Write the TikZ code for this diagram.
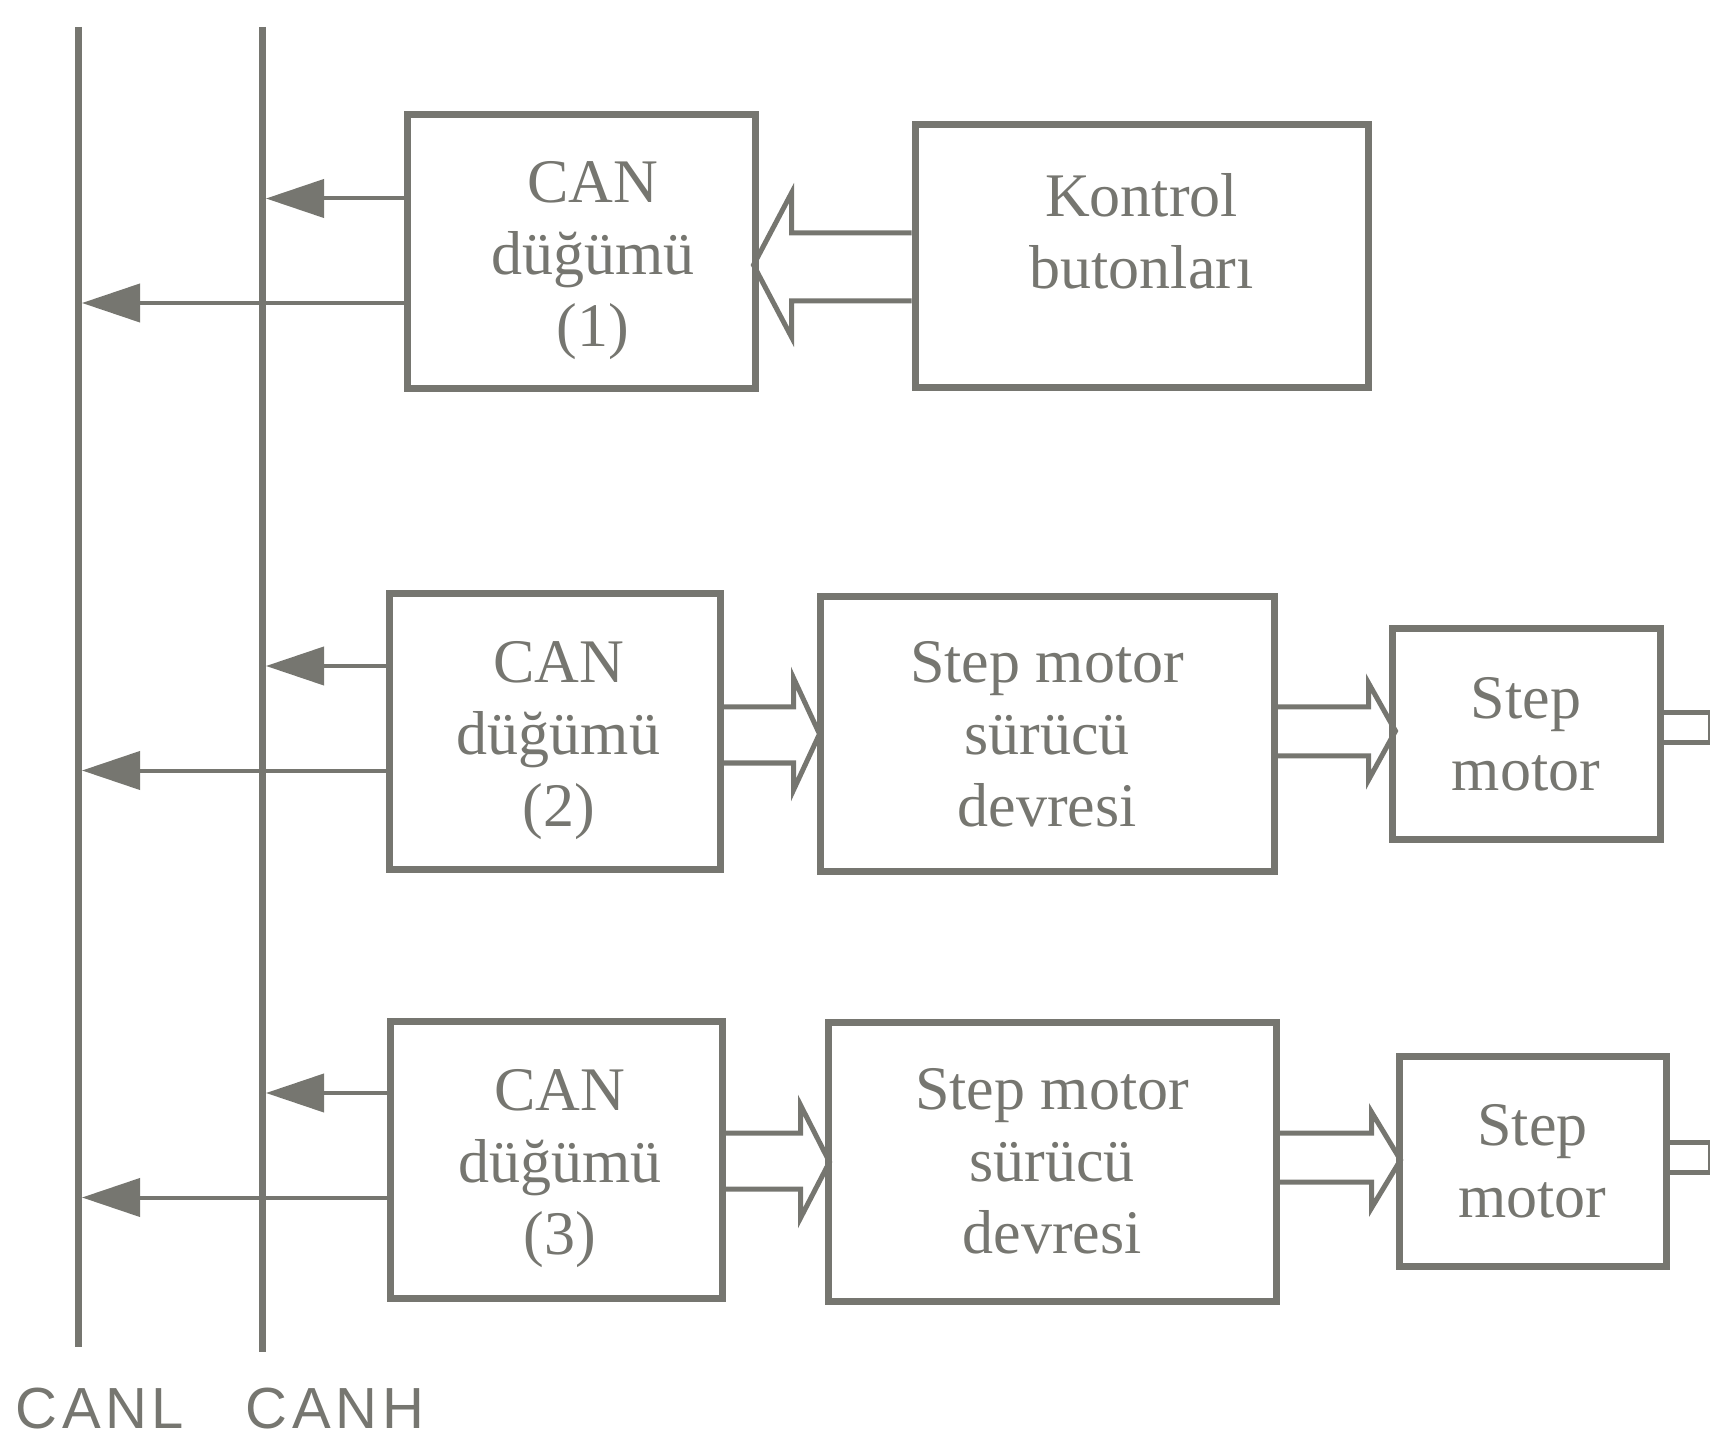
\documentclass[tikz,border=0pt]{standalone}
\usepackage{fontspec}
\setmainfont{Liberation Serif}
\newfontfamily\etiketfont[LetterSpace=8]{Liberation Sans}
\usetikzlibrary{arrows.meta}
\definecolor{gri}{RGB}{118,118,112}

\begin{document}
\begin{tikzpicture}[
    x=0.5pt, y=-0.5pt,
    yazi/.style={align=center, text=gri, font=\fontsize{31}{36}\selectfont},
    kutu/.style={yazi, draw=gri, line width=3.5pt, fill=white, inner sep=0pt},
    hat/.style={draw=gri, line width=3.5pt},
    ok/.style={draw=gri, line width=2pt, -{Triangle[length=29pt,width=19pt]}, shorten >=2pt},
    bosok/.style={draw=gri, line width=2.5pt, line join=miter},
    etiket/.style={text=gri, font=\etiketfont\fontsize{29}{34}\selectfont, anchor=base}
]
\useasboundingbox (0,0) rectangle (1710,1444);

% CAN bus
\coordinate (canlT) at (78,27);
\coordinate (canlB) at (78,1347);
\coordinate (canhT) at (262,27);
\coordinate (canhB) at (262,1352);
\draw[hat] (canlT) -- (canlB);
\draw[hat] (canhT) -- (canhB);
\node[etiket] (canl) at (100,1428) {CANL};
\node[etiket] (canh) at (335,1428) {CANH};

% blocks
\node[kutu, minimum width=174pt, minimum height=137pt,
      label={[yazi, xshift=6pt, yshift=-4.5pt]center:CAN\\düğümü\\(1)}] (can1) at (581,252) {};
\node[kutu, minimum width=226.5pt, minimum height=131.5pt,
      label={[yazi, yshift=12.5pt]center:Kontrol\\butonları}] (kontrol) at (1141.5,256.5) {};

\node[kutu, minimum width=165.5pt, minimum height=137.5pt,
      label={[yazi, xshift=2pt, yshift=-4.5pt]center:CAN\\düğümü\\(2)}] (can2) at (554.5,731.5) {};
\node[kutu, minimum width=227pt, minimum height=137pt] (surucu2) at (1047,734) {Step motor\\sürücü\\devresi};
\node[kutu, minimum width=134pt, minimum height=105pt] (motor2) at (1526,734) {Step\\motor};

\node[kutu, minimum width=166pt, minimum height=138.5pt,
      label={[yazi, xshift=2pt, yshift=-4.5pt]center:CAN\\düğümü\\(3)}] (can3) at (556,1159.5) {};
\node[kutu, minimum width=224pt, minimum height=139.5pt] (surucu3) at (1052,1161.5) {Step motor\\sürücü\\devresi};
\node[kutu, minimum width=133.5pt, minimum height=105pt] (motor3) at (1532.5,1161) {Step\\motor};

% nodes to bus
\foreach \kutu/\ust/\alt in {can1/26.75pt/-25.5pt, can2/32.75pt/-19.5pt, can3/33.25pt/-19pt} {
    \draw[ok] ([yshift=\ust]\kutu.west) coordinate (u) -- (u -| canhT);
    \draw[ok] ([yshift=\alt]\kutu.west) coordinate (a) -- (a -| canlT);
}

% hollow arrows
\draw[bosok] ([yshift=11.75pt]kontrol.west) -- ++(-120,0) -- ++(0,-40) -- ++(-38,72)
    -- ++(38,72) -- ++(0,-36) -- ([yshift=-22.25pt]kontrol.west);
\draw[bosok] ([yshift=12.25pt]can2.east) -- ++(70,0) -- ++(0,-29) -- ++(26,56)
    -- ++(-26,56) -- ++(0,-27) -- ([yshift=-15.75pt]can2.east);
\draw[bosok] ([yshift=13.5pt]surucu2.east) -- ++(91,0) -- ++(0,-24) -- ++(27,48)
    -- ++(-27,49) -- ++(0,-24) -- ([yshift=-11pt]surucu2.east);
\draw[bosok] ([yshift=13.25pt]can3.east) -- ++(75,0) -- ++(0,-28) -- ++(29,57)
    -- ++(-29,56) -- ++(0,-29) -- ([yshift=-14.75pt]can3.east);
\draw[bosok] ([yshift=14.25pt]surucu3.east) -- ++(92,0) -- ++(0,-21) -- ++(29,48)
    -- ++(-29,48) -- ++(0,-26) -- ([yshift=-10.25pt]surucu3.east);

% motor shafts
\draw[bosok] ([yshift=10.5pt]motor2.east) -- ++(47,0) -- ++(0,30) -- ([yshift=-4.5pt]motor2.east);
\draw[bosok] ([yshift=9.5pt]motor3.east) -- ++(41,0) -- ++(0,30) -- ([yshift=-5.5pt]motor3.east);
\end{tikzpicture}
\end{document}
